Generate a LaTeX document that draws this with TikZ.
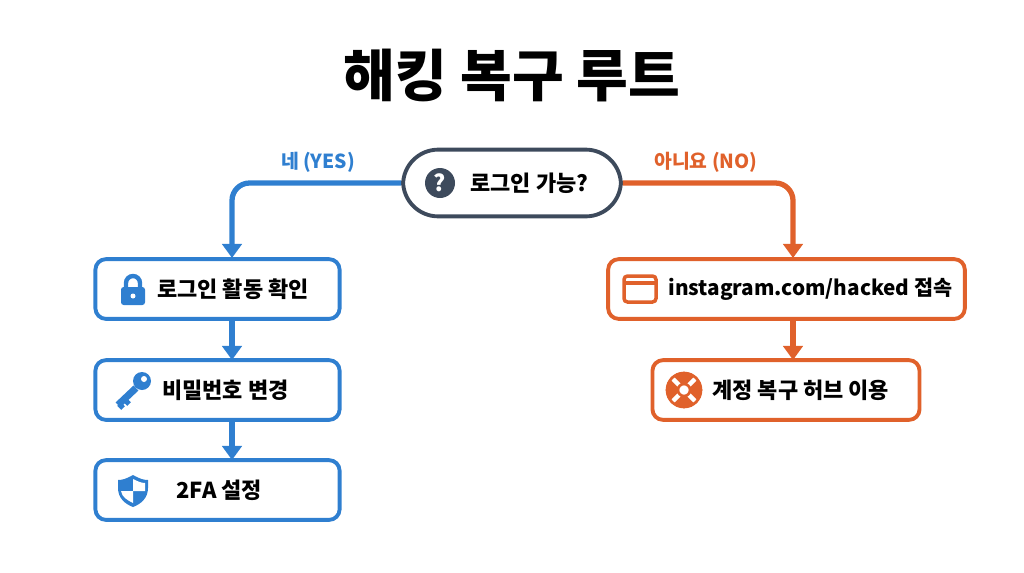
\documentclass[tikz,border=0pt]{standalone}
\usepackage{fontspec}
\setmainfont{Noto Sans CJK KR}
\usetikzlibrary{positioning,arrows.meta}
\definecolor{yesblue}{HTML}{2F7FD0}
\definecolor{noorange}{HTML}{E0612B}
\definecolor{slate}{HTML}{3D4A5C}
\tikzset{>={Triangle[width=11pt,length=8pt]},
  stepbox/.style={draw,line width=2.2pt,rounded corners=6pt,minimum height=34pt,inner sep=0pt},
  yesbox/.style={stepbox,draw=yesblue,minimum width=139pt},
  nobox/.style={stepbox,draw=noorange},
  label/.style={font=\bfseries\fontsize{12.5}{14}\selectfont,anchor=west,inner sep=0pt},
  flow/.style={line width=3pt,rounded corners=10pt,->}}
\begin{document}
\begin{tikzpicture}[x=0.02cm,y=-0.02cm]
  \useasboundingbox (0,0) rectangle (1024,572);
  \node (title) at (512,75) {\bfseries\fontsize{32}{36}\selectfont 해킹 복구 루트};
  % question
  \node[draw=slate,line width=2.2pt,rounded corners=20pt,minimum width=124pt,minimum height=38pt] (ask) at (512,183) {};
  \node[label] (askt) at (470,183) {로그인 가능?};
  \fill[slate] (440,183) circle (15);
  \node[text=white,font=\bfseries\fontsize{13}{14}\selectfont] (qm) at (440,183) {?};
  % yes side
  \node[yesbox] (act) at (217.5,289) {};
  \node[yesbox] (pw) at (217.5,390) {};
  \node[yesbox] (fa) at (217.5,490) {};
  \node[label] (actt) at (157,289) {로그인 활동 확인};
  \node[label] (pwt) at (162,390) {비밀번호 변경};
  \node[label] (fat) at (176,490) {2FA 설정};
  % lock
  \draw[yesblue,line width=2.5pt] (126,289) -- (126,283) arc (180:360:7) -- (140,289);
  \fill[yesblue,rounded corners=1.5pt] (121,287) rectangle (145,305);
  \fill[white] (133,296) circle (2.5);
  % key
  \fill[yesblue] (142,381) circle (9);
  \fill[white] (144,379) circle (3);
  \draw[yesblue,line width=4pt] (136,388) -- (118,405);
  \draw[yesblue,line width=3pt] (124,399) -- (129,404) (119,404) -- (123,408);
  % shield
  \fill[yesblue] (133,475) .. controls (126,479) and (122,480) .. (118,480) -- (118,488)
    .. controls (118,498) and (125,504) .. (133,507) .. controls (141,504) and (148,498) .. (148,488)
    -- (148,480) .. controls (144,480) and (140,479) .. (133,475) -- cycle;
  \fill[white] (133,479) -- (133,491) -- (145,491) -- (145,483) .. controls (141,483) and (137,481) .. (133,479) -- cycle;
  \fill[white] (121,491) -- (133,491) -- (133,503) .. controls (127,500) and (122,497) .. (121,491) -- cycle;
  % no side
  \node[nobox,minimum width=203pt] (hk) at (786.5,289) {};
  \node[label,font=\bfseries\fontsize{11.8}{14}\selectfont] (hkt) at (668,289) {instagram.com/hacked 접속};
  \node[nobox,minimum width=152pt] (hub) at (786,390) {};
  \node[label] (hubt) at (712,390) {계정 복구 허브 이용};
  % browser
  \draw[noorange,line width=2pt,rounded corners=2pt] (624,276) rectangle (656,302);
  \draw[noorange,line width=2pt] (624,283) -- (656,283);
  % lifebuoy
  \draw[noorange,line width=7pt] (684,390) circle (12);
  \foreach \a in {45,135,225,315}
    \draw[white,line width=2.5pt] (684,390) ++(\a:7) -- ++(\a:10);
  \draw[noorange,line width=1.5pt] (684,390) circle (17) circle (6);
  % connectors
  \coordinate (y1) at (232,258); \coordinate (y2) at (232,320);
  \coordinate (y3) at (232,360); \coordinate (y4) at (232,420);
  \coordinate (y5) at (232,460);
  \coordinate (n1) at (793,258); \coordinate (n2) at (793,320);
  \coordinate (n3) at (793,360);
  \draw[flow,yesblue] (ask.west) -| (y1);
  \draw[flow,noorange] (ask.east) -| (n1);
  \draw[flow,yesblue] (y2) -- (y3);
  \draw[flow,yesblue] (y4) -- (y5);
  \draw[flow,noorange] (n2) -- (n3);
  \node[text=yesblue,font=\bfseries\fontsize{11}{12}\selectfont] (yes) at (318,162) {네 (YES)};
  \node[text=noorange,font=\bfseries\fontsize{11}{12}\selectfont] (no) at (706,162) {아니요 (NO)};
\end{tikzpicture}
\end{document}
